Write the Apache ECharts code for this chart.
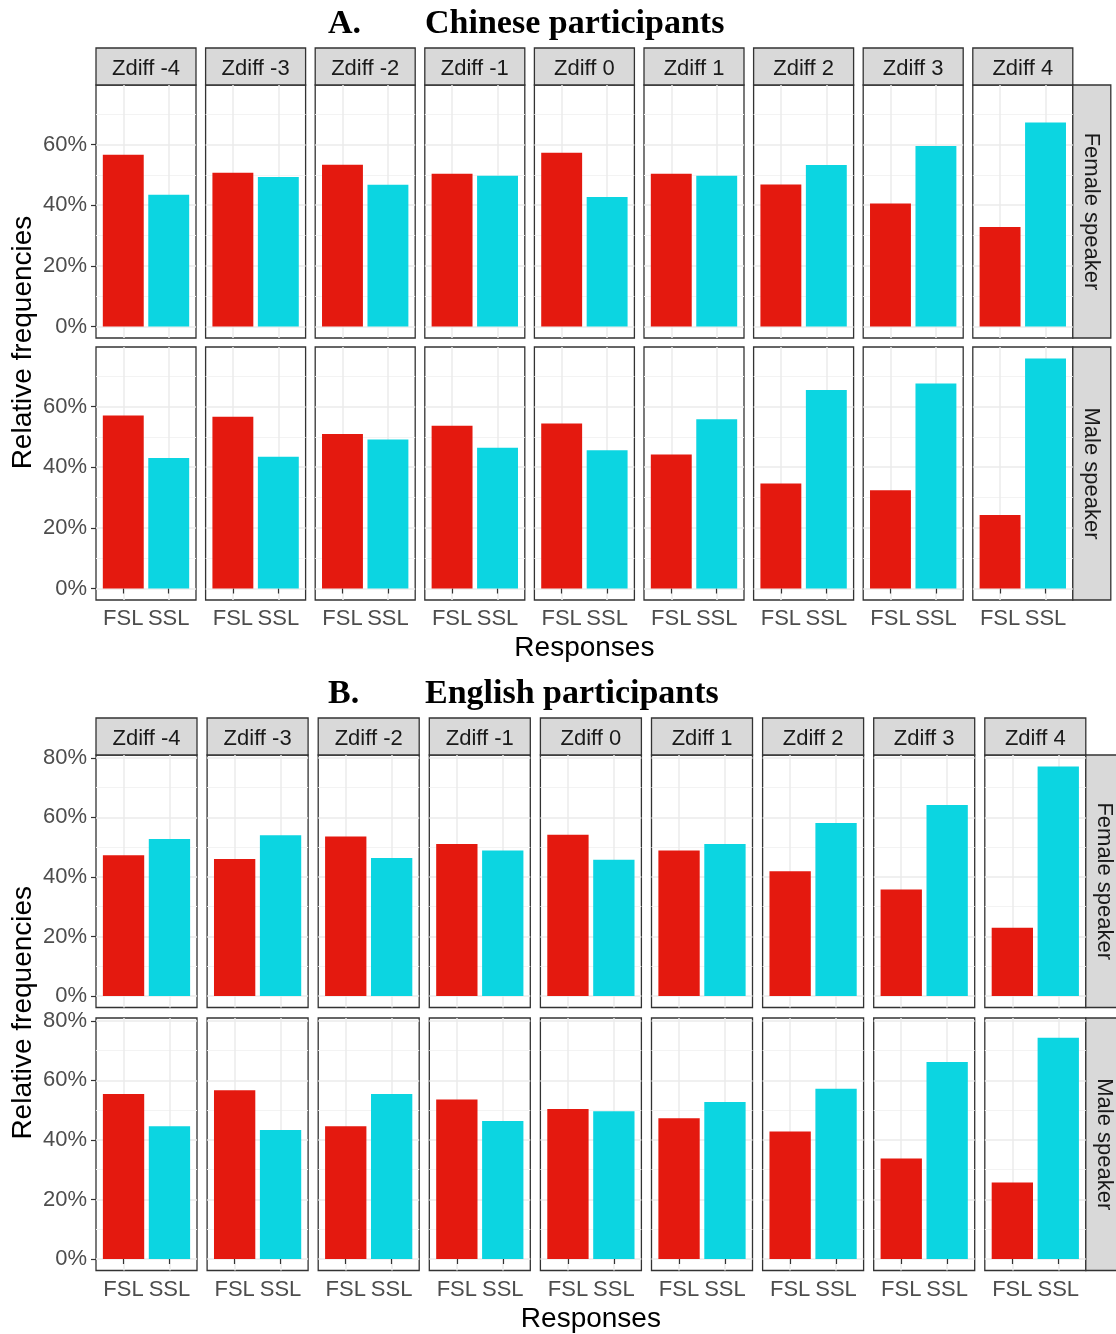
<!DOCTYPE html>
<html>
<head>
<meta charset="utf-8">
<title>Relative frequencies of responses by Zdiff</title>
<script src="https://cdn.jsdelivr.net/npm/echarts@6/dist/echarts.min.js"></script>
<style>
  html, body { margin: 0; padding: 0; background: #ffffff; }
  #chart { width: 1116px; height: 1334px; }
</style>
</head>
<body>
<div id="chart"></div>
<script>
// Facet levels
const zdiffLevels = ['Zdiff -4', 'Zdiff -3', 'Zdiff -2', 'Zdiff -1', 'Zdiff 0', 'Zdiff 1', 'Zdiff 2', 'Zdiff 3', 'Zdiff 4'];
const responseLevels = ['FSL', 'SSL'];
const speakerLevels = ['Female speaker', 'Male speaker'];
const yTickValues = [0, 20, 40, 60, 80];
const yMinorValues = [10, 30, 50, 70];

// Relative frequencies (%) per Zdiff level
const chineseFemaleFSL = [56.6, 50.7, 53.3, 50.3, 57.3, 50.3, 46.8, 40.5, 32.8];
const chineseFemaleSSL = [43.4, 49.3, 46.7, 49.7, 42.7, 49.7, 53.2, 59.5, 67.2];
const chineseMaleFSL   = [57.0, 56.6, 50.9, 53.6, 54.4, 44.2, 34.6, 32.4, 24.2];
const chineseMaleSSL   = [43.0, 43.4, 49.1, 46.4, 45.6, 55.8, 65.4, 67.6, 75.8];
const englishFemaleFSL = [47.3, 46.0, 53.6, 51.1, 54.2, 48.9, 41.9, 35.8, 22.9];
const englishFemaleSSL = [52.7, 54.0, 46.4, 48.9, 45.8, 51.1, 58.1, 64.2, 77.1];
const englishMaleFSL   = [55.4, 56.7, 44.6, 53.6, 50.4, 47.3, 42.8, 33.8, 25.7];
const englishMaleSSL   = [44.6, 43.3, 55.4, 46.4, 49.6, 52.7, 57.2, 66.2, 74.3];

const sectionLabels = ['A.', 'B.'];
const sectionTitles = ['Chinese participants', 'English participants'];
const sectionData = [
  [[chineseFemaleFSL, chineseFemaleSSL], [chineseMaleFSL, chineseMaleSSL]],
  [[englishFemaleFSL, englishFemaleSSL], [englishMaleFSL, englishMaleSSL]]
];

// Page geometry for each block of facets
const layouts = [
  { stripTop: 48,  rowTops: [85, 347],   rowH: 253,   left: 96, step: 109.6, panelW: 100, sideW: 38, titleY: 22,  xTitleY: 647 },
  { stripTop: 718, rowTops: [755, 1018], rowH: 252.5, left: 96, step: 111.1, panelW: 101, sideW: 38, titleY: 692, xTitleY: 1318 }
];

const RED = '#E4190F';
const CYAN = '#0CD5E1';
const SANS = '"Liberation Sans", Arial, sans-serif';
const SERIF = '"Liberation Serif", "DejaVu Serif", serif';
const BORDER = '#333333';

const grids = [], xAxes = [], yAxes = [], series = [], graphics = [];

sectionData.forEach((rows, s) => {
  const L = layouts[s];
  const allVals = rows.flat(2);
  const vmax = Math.max(...allVals);
  const yMin = -0.05 * vmax, yMax = 1.05 * vmax;
  const majors = yTickValues.filter(v => v >= yMin && v <= yMax);
  const minors = yMinorValues.filter(v => v >= yMin && v <= yMax);
  const barW = L.panelW / 2.2 * 0.9;

  rows.forEach((pair, r) => {
    zdiffLevels.forEach((lvl, c) => {
      const gi = grids.length;
      const left = L.left + c * L.step;
      const top = L.rowTops[r];
      grids.push({
        left: left, top: top, width: L.panelW, height: L.rowH,
        show: true, backgroundColor: '#ffffff', borderColor: BORDER, borderWidth: 1.3,
        containLabel: false, outerBoundsMode: 'none'
      });
      const bottomRow = r === rows.length - 1;
      xAxes.push({
        gridIndex: gi, type: 'value', min: 0.4, max: 2.6,
        axisLine: { show: false },
        axisTick: { show: bottomRow, customValues: [1, 2], length: 5, lineStyle: { color: BORDER, width: 1.2 } },
        axisLabel: {
          show: bottomRow, customValues: [1, 2], margin: 8,
          formatter: v => responseLevels[Math.round(v) - 1],
          fontFamily: SANS, fontSize: 22, color: '#4d4d4d'
        },
        splitLine: { show: true, lineStyle: { color: '#ebebeb', width: 1.5 } }
      });
      // minor grid lines
      yAxes.push({
        gridIndex: gi, type: 'value', min: yMin, max: yMax, position: 'left',
        axisLine: { show: false },
        axisTick: { show: false, customValues: minors },
        axisLabel: { show: false },
        splitLine: { show: true, lineStyle: { color: '#f3f3f3', width: 1 } }
      });
      // major grid lines, ticks and labels
      yAxes.push({
        gridIndex: gi, type: 'value', min: yMin, max: yMax, position: 'left',
        axisLine: { show: false },
        axisTick: { show: c === 0, customValues: majors, length: 5, lineStyle: { color: BORDER, width: 1.2 } },
        axisLabel: {
          show: c === 0, customValues: majors, margin: 9,
          formatter: v => Math.round(v) + '%',
          fontFamily: SANS, fontSize: 22, color: '#4d4d4d'
        },
        splitLine: { show: true, lineStyle: { color: '#ebebeb', width: 1.5 } }
      });
      series.push({
        type: 'bar', xAxisIndex: gi, yAxisIndex: 2 * gi + 1,
        barWidth: barW, silent: true, animation: false,
        data: [
          { value: [1, pair[0][c]], itemStyle: { color: RED } },
          { value: [2, pair[1][c]], itemStyle: { color: CYAN } }
        ]
      });

      // column strip
      if (r === 0) {
        graphics.push({
          type: 'rect', silent: true,
          shape: { x: left, y: L.stripTop, width: L.panelW, height: top - L.stripTop },
          style: { fill: '#d9d9d9', stroke: BORDER, lineWidth: 1.3 }
        });
        graphics.push({
          type: 'text', silent: true,
          x: left + L.panelW / 2, y: (L.stripTop + top) / 2 + 2,
          style: { text: lvl, font: '22px ' + SANS, fill: '#1a1a1a',
                   textAlign: 'center', textVerticalAlign: 'middle', align: 'center', verticalAlign: 'middle' }
        });
      }
      // row strip
      if (c === zdiffLevels.length - 1) {
        const sx = left + L.panelW;
        graphics.push({
          type: 'rect', silent: true,
          shape: { x: sx, y: top, width: L.sideW, height: L.rowH },
          style: { fill: '#d9d9d9', stroke: BORDER, lineWidth: 1.3 }
        });
        graphics.push({
          type: 'text', silent: true,
          x: sx + L.sideW / 2 - 1, y: top + L.rowH / 2, rotation: -Math.PI / 2,
          style: { text: speakerLevels[r], font: '22px ' + SANS, fill: '#1a1a1a',
                   textAlign: 'center', textVerticalAlign: 'middle', align: 'center', verticalAlign: 'middle' }
        });
      }
    });
  });

  // block title
  graphics.push({
    type: 'text', silent: true, x: 328, y: L.titleY + 2,
    style: { text: sectionLabels[s], font: 'bold 34px ' + SERIF, fill: '#000000',
             textAlign: 'left', textVerticalAlign: 'middle', align: 'left', verticalAlign: 'middle' }
  });
  graphics.push({
    type: 'text', silent: true, x: 425, y: L.titleY + 2,
    style: { text: sectionTitles[s], font: 'bold 34px ' + SERIF, fill: '#000000',
             textAlign: 'left', textVerticalAlign: 'middle', align: 'left', verticalAlign: 'middle' }
  });

  // axis titles
  const panelsRight = L.left + (zdiffLevels.length - 1) * L.step + L.panelW;
  graphics.push({
    type: 'text', silent: true, x: (L.left + panelsRight) / 2, y: L.xTitleY + 1,
    style: { text: 'Responses', font: '28px ' + SANS, fill: '#000000',
             textAlign: 'center', textVerticalAlign: 'middle', align: 'center', verticalAlign: 'middle' }
  });
  graphics.push({
    type: 'text', silent: true, x: 23, y: (L.rowTops[0] + L.rowTops[1] + L.rowH) / 2,
    rotation: Math.PI / 2,
    style: { text: 'Relative frequencies', font: '28px ' + SANS, fill: '#000000',
             textAlign: 'center', textVerticalAlign: 'middle', align: 'center', verticalAlign: 'middle' }
  });
});

const chart = echarts.init(document.getElementById('chart'), null, { renderer: 'canvas' });
chart.setOption({
  backgroundColor: '#ffffff',
  animation: false,
  grid: grids,
  xAxis: xAxes,
  yAxis: yAxes,
  series: series,
  graphic: { elements: graphics }
});
</script>
</body>
</html>
